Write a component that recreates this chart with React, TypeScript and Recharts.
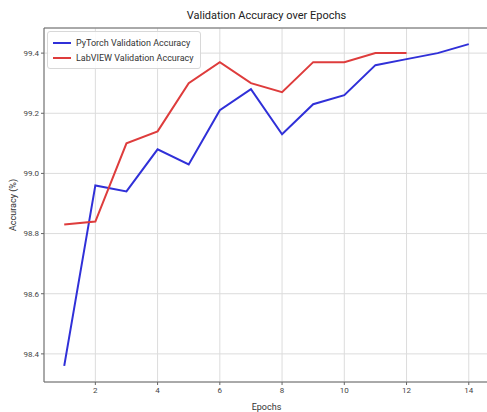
import { LineChart, Line, XAxis, YAxis, CartesianGrid, ReferenceLine } from 'recharts';

const epochs = [1, 2, 3, 4, 5, 6, 7, 8, 9, 10, 11, 12, 13, 14];
const pytorchAcc = [98.36, 98.96, 98.94, 99.08, 99.03, 99.21, 99.28, 99.13, 99.23, 99.26, 99.36, 99.38, 99.4, 99.43];
const labviewAcc = [98.83, 98.84, 99.1, 99.14, 99.3, 99.37, 99.3, 99.27, 99.37, 99.37, 99.4, 99.4];
const xTicks = [2, 4, 6, 8, 10, 12, 14];
const yTicks = [98.4, 98.6, 98.8, 99.0, 99.2, 99.4];

const BLUE = '#3030d8';
const RED = '#de3c3c';
const FONT = 'Roboto, "DejaVu Sans", sans-serif';
const Y_MIN = 98.3065;
const Y_MAX = 99.4835;

const data = epochs.map((e, i) => ({
  epoch: e,
  pytorch: pytorchAcc[i],
  labview: i < labviewAcc.length ? labviewAcc[i] : null,
}));

function LegendBox() {
  const items = [
    { name: 'PyTorch Validation Accuracy', color: BLUE },
    { name: 'LabVIEW Validation Accuracy', color: RED },
  ];
  return (
    <div
      style={{
        position: 'absolute',
        top: 31,
        left: 47,
        border: '1px solid #d8d8d8',
        borderRadius: 3,
        background: 'rgba(255,255,255,0.85)',
        padding: '3px 6px 3px 5px',
        fontFamily: FONT,
        fontSize: 9,
        color: '#333',
        zIndex: 2,
      }}
    >
      {items.map(it => (
        <div key={it.name} style={{ display: 'flex', alignItems: 'center', height: 15 }}>
          <span style={{ display: 'inline-block', width: 18, height: 2, background: it.color, marginRight: 5 }} />
          {it.name}
        </div>
      ))}
    </div>
  );
}

export default function App() {
  return (
    <div style={{ width: 487, height: 412, overflow: 'hidden', position: 'relative', background: '#fff' }}>
      <style>{`body{margin:0}`}</style>
      <div
        style={{
          position: 'absolute',
          top: 9,
          left: 44,
          width: 445,
          textAlign: 'center',
          fontFamily: FONT,
          fontSize: 11,
          color: '#222',
        }}
      >
        Validation Accuracy over Epochs
      </div>
      <div
        style={{
          position: 'absolute',
          left: 13,
          top: 205,
          transform: 'translate(-50%, -50%) rotate(-90deg)',
          fontFamily: FONT,
          fontSize: 9,
          color: '#333',
          whiteSpace: 'nowrap',
        }}
      >
        Accuracy (%)
      </div>
      <div
        style={{
          position: 'absolute',
          top: 402,
          left: 44,
          width: 445,
          textAlign: 'center',
          fontFamily: FONT,
          fontSize: 9,
          color: '#333',
        }}
      >
        Epochs
      </div>
      <LegendBox />
      <LineChart width={490} height={412} data={data} margin={{ top: 28, right: 1, bottom: 0, left: 0 }}>
        <CartesianGrid stroke="#dcdcdc" strokeWidth={1} />
        <XAxis
          dataKey="epoch"
          type="number"
          domain={[0.35, 14.65]}
          ticks={xTicks}
          allowDataOverflow
          height={30}
          stroke="#666"
          tickSize={3}
          tick={{ fontSize: 8, fontFamily: FONT, fill: '#444' }}
        />
        <YAxis
          type="number"
          domain={[Y_MIN, Y_MAX]}
          ticks={yTicks}
          allowDataOverflow
          width={44}
          stroke="#666"
          tickSize={3}
          tickFormatter={(v: number) => v.toFixed(1)}
          tick={{ fontSize: 8, fontFamily: FONT, fill: '#444' }}
        />
        <ReferenceLine y={Y_MAX} stroke="#666" strokeWidth={1} />
        <Line
          dataKey="pytorch"
          stroke={BLUE}
          strokeWidth={2}
          dot={false}
          isAnimationActive={false}
        />
        <Line
          dataKey="labview"
          stroke={RED}
          strokeWidth={2}
          dot={false}
          isAnimationActive={false}
        />
      </LineChart>
    </div>
  );
}
